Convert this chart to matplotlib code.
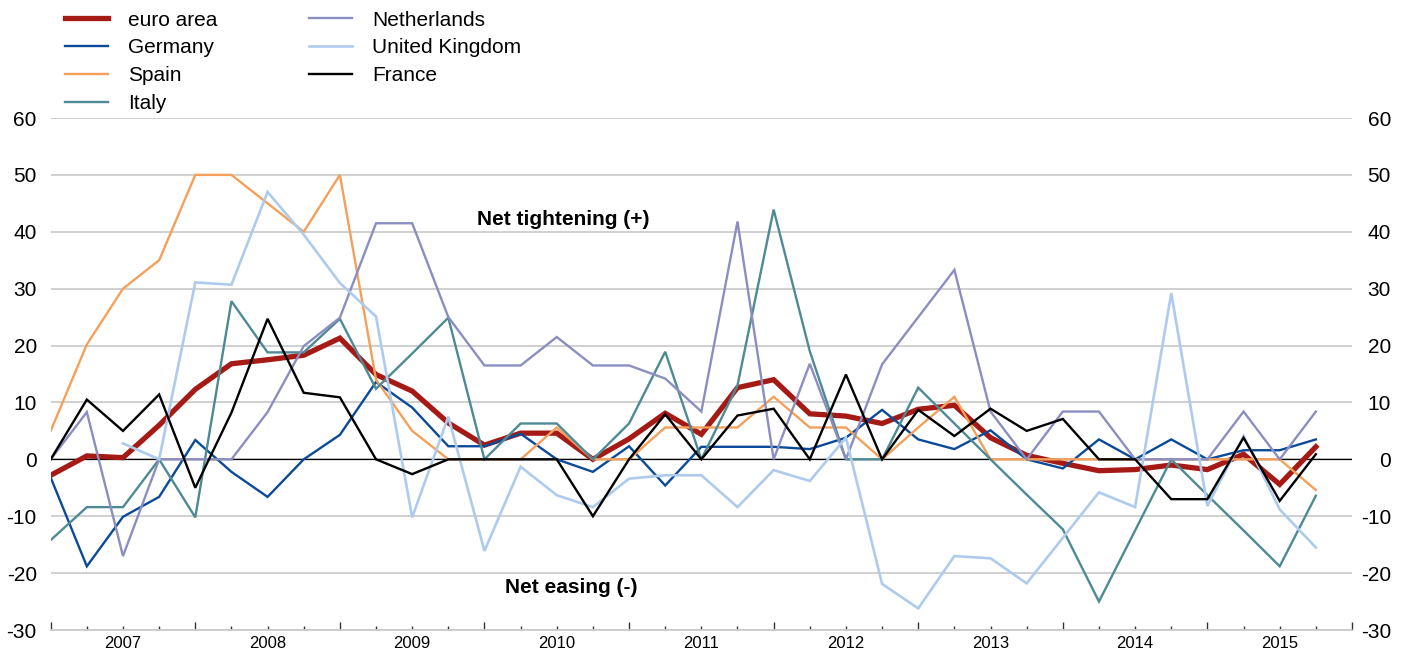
import matplotlib
matplotlib.use("Agg")
import matplotlib.pyplot as plt
import numpy as np

plt.rcParams['font.family'] = ['Liberation Sans', 'DejaVu Sans']

years = ['2007', '2008', '2009', '2010', '2011', '2012', '2013', '2014', '2015']

euro_area = [-2.8, 0.6, 0.3, 6.0, 12.3, 16.8, 17.5, 18.3, 21.3,
             14.9, 12.0, 6.4, 2.5, 4.6, 4.6, 0.0, 3.6, 8.1,
             4.4, 12.6, 14.0, 8.0, 7.6, 6.3, 8.8, 9.5, 3.8,
             0.7, -0.7, -2.0, -1.8, -1.0, -1.8, 0.9, -4.4, 2.2]
germany = [-3.2, -18.8, -10.1, -6.6, 3.4, -2.2, -6.6, 0.0, 4.3,
           13.6, 9.1, 2.3, 2.3, 4.5, 0.0, -2.2, 2.3, -4.6,
           2.2, 2.2, 2.2, 1.8, 3.8, 8.7, 3.5, 1.8, 5.1,
           0.0, -1.6, 3.5, 0.0, 3.5, 0.0, 1.6, 1.6, 3.5]
spain = [5.0, 20.2, 30.0, 35.0, 50.0, 50.0, 45.0, 40.0, 50.0,
         14.0, 5.0, 0.0, 0.0, 0.0, 5.6, 0.0, 0.0, 5.6,
         5.6, 5.6, 11.0, 5.6, 5.6, 0.0, 5.6, 11.0, 0.0,
         0.0, 0.0, 0.0, 0.0, 0.0, 0.0, 0.0, 0.0, -5.4]
italy = [-14.2, -8.4, -8.4, 0.0, -10.2, 27.8, 18.8, 18.8, 24.7,
         12.4, 18.6, 24.9, 0.0, 6.3, 6.3, 0.0, 6.3, 18.9,
         0.0, 13.0, 43.9, 19.0, 0.0, 0.0, 12.6, 6.3, 0.0,
         -6.2, -12.3, -25.0, -12.5, 0.0, -6.3, -12.5, -18.8, -6.4]
netherlands = [0.0, 8.3, -17.0, 0.0, 0.0, 0.0, 8.3, 19.9, 24.9,
               41.5, 41.5, 25.0, 16.5, 16.5, 21.5, 16.5, 16.5, 14.2,
               8.4, 41.8, 0.0, 16.8, 0.0, 16.7, 25.0, 33.3, 8.4,
               0.0, 8.4, 8.4, 0.0, 0.0, 0.0, 8.4, 0.0, 8.4]
united_kingdom = [np.nan, np.nan, 2.8, 0.0, 31.1, 30.7, 47.0, 39.5, 31.0,
                  25.1, -10.2, 7.5, -16.1, -1.3, -6.3, -8.4, -3.4, -2.8,
                  -2.8, -8.4, -1.9, -3.8, 3.8, -21.9, -26.2, -17.0, -17.4,
                  -21.8, -13.8, -5.8, -8.4, 29.2, -8.2, 4.1, -8.8, -15.5]
france = [0.0, 10.5, 5.0, 11.4, -5.0, 8.2, 24.7, 11.7, 10.9,
          0.0, -2.6, 0.0, 0.0, 0.0, 0.0, -10.0, 0.0, 7.9,
          0.0, 7.7, 8.9, 0.0, 14.9, 0.0, 8.7, 4.1, 8.9,
          5.0, 7.1, 0.0, 0.0, -7.0, -7.0, 3.8, -7.3, 0.9]

series = [
    ('euro area', euro_area, '#A61A16', 3.8),
    ('Germany', germany, '#0B4A99', 1.7),
    ('Spain', spain, '#F5A05A', 1.7),
    ('Italy', italy, '#4E8A94', 1.7),
    ('Netherlands', netherlands, '#8B8EC0', 1.7),
    ('United Kingdom', united_kingdom, '#AECBEE', 1.9),
    ('France', france, '#000000', 1.7),
]

W, H = 1407, 655
fig = plt.figure(figsize=(W / 100, H / 100), dpi=100)
ax = fig.add_axes([50.7 / W, (H - 630) / H, (1352 - 50.7) / W, (630 - 118) / H])

x = np.arange(len(euro_area))
for name, vals, col, lw in series:
    ax.plot(x, vals, color=col, lw=lw, label=name, solid_joinstyle='miter', zorder=3)

ax.set_xlim(0, 36)
ax.set_ylim(-30, 60)
yt = np.arange(-30, 61, 10)
ax.set_yticks(yt)
ax.set_yticklabels([str(v) for v in yt])
ax.grid(axis='y', color='#C8C8C8', lw=1.2, zorder=0)
ax.axhline(0, color='black', lw=0.9, zorder=2)

for s in ['top', 'left', 'right']:
    ax.spines[s].set_visible(False)
ax.spines['bottom'].set_color('#C8C8C8')
ax.spines['bottom'].set_linewidth(1.2)

ax.set_xticks(np.arange(0, 37, 4))
ax.set_xticklabels([])
minor = [q for q in range(1, 36) if q % 4 != 0]
ax.set_xticks(minor, minor=True)
ax.set_xticklabels([years[q // 4] if q % 4 == 2 else '' for q in minor], minor=True)
ax.tick_params(axis='x', which='major', direction='in', length=6, width=1, color='#333333')
ax.tick_params(axis='x', which='minor', direction='in', length=3, width=1, color='#333333',
               labelsize=12, pad=4)
ax.tick_params(axis='y', length=0, labelsize=15, pad=10)

ax2 = ax.twinx()
ax2.set_ylim(-30, 60)
ax2.set_yticks(yt)
ax2.set_yticklabels([str(v) for v in yt])
ax2.tick_params(axis='y', length=0, labelsize=15, pad=28)
for lbl in ax2.get_yticklabels():
    lbl.set_horizontalalignment('right')
for s in ax2.spines.values():
    s.set_visible(False)

ax.text(14.17, 42.2, 'Net tightening (+)', fontsize=15, fontweight='bold',
        ha='center', va='center')
ax.text(14.4, -22.6, 'Net easing (-)', fontsize=15, fontweight='bold',
        ha='center', va='center')

handles, labels = ax.get_legend_handles_labels()
fig.legend(handles, labels, loc='upper left', bbox_to_anchor=(65 / W, 1 - 10.5 / H),
           ncol=2, frameon=False, fontsize=15, handlelength=2.07, handletextpad=0.96,
           columnspacing=4.4, labelspacing=0.43, borderpad=0, borderaxespad=0)

fig.savefig('out.png', dpi=100)
